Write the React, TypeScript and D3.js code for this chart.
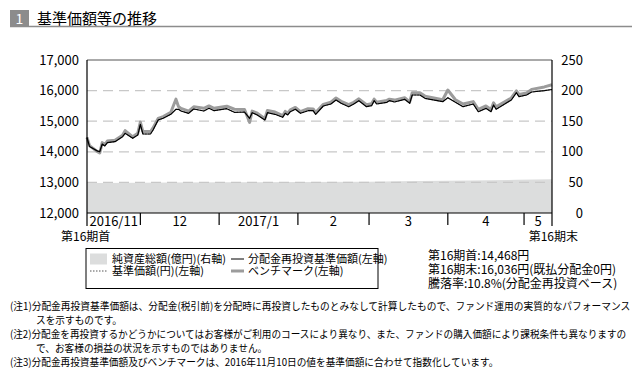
import React, { useRef, useEffect } from "react";
import * as d3 from "d3";

// 基準価額等の推移 (第16期)
const dates = [
    "2016-11-10", "2016-11-11", "2016-11-14", "2016-11-15", "2016-11-16", "2016-11-17",
    "2016-11-18", "2016-11-21", "2016-11-24", "2016-11-25", "2016-11-28", "2016-11-30",
    "2016-12-01", "2016-12-02", "2016-12-05", "2016-12-06", "2016-12-08", "2016-12-10",
    "2016-12-13", "2016-12-15", "2016-12-16", "2016-12-17", "2016-12-20", "2016-12-22",
    "2016-12-26", "2016-12-28", "2016-12-30", "2017-01-04", "2017-01-07", "2017-01-11",
    "2017-01-13", "2017-01-14", "2017-01-16", "2017-01-19", "2017-01-20", "2017-01-23",
    "2017-01-26", "2017-01-27", "2017-01-28", "2017-01-29", "2017-01-31", "2017-02-02",
    "2017-02-05", "2017-02-07", "2017-02-08", "2017-02-11", "2017-02-14", "2017-02-16",
    "2017-02-18", "2017-02-21", "2017-02-23", "2017-02-25", "2017-02-28", "2017-03-02",
    "2017-03-03", "2017-03-04", "2017-03-08", "2017-03-09", "2017-03-11", "2017-03-15",
    "2017-03-17", "2017-03-18", "2017-03-21", "2017-03-23", "2017-03-30", "2017-04-01",
    "2017-04-04", "2017-04-07", "2017-04-11", "2017-04-13", "2017-04-16", "2017-04-18",
    "2017-04-19", "2017-04-20", "2017-04-26", "2017-04-28", "2017-04-29", "2017-05-02",
    "2017-05-04", "2017-05-09", "2017-05-12",
];

// 分配金再投資基準価額 (= 基準価額, 分配金0円)
const navValues = [
    14468, 14170, 14030, 14000, 14255, 14190,
    14297, 14330, 14493, 14604, 14440, 14549,
    14899, 14582, 14582, 14712, 15039, 15095,
    15225, 15389, 15390, 15333, 15258, 15399,
    15333, 15422, 15343, 15408, 15290, 15300,
    15095, 15278, 15203, 15039, 15278, 15225,
    15127, 15258, 15203, 15310, 15389, 15258,
    15343, 15343, 15225, 15497, 15562, 15693,
    15585, 15474, 15562, 15670, 15474, 15507,
    15670, 15562, 15617, 15670, 15627, 15715,
    15585, 15856, 15856, 15748, 15637, 15768,
    15617, 15474, 15562, 15310, 15420, 15310,
    15530, 15389, 15693, 15931, 15801, 15856,
    15954, 16000, 16036,
];

// ベンチマーク
const benchValues = [
    14468, 14200, 14010, 13960, 14300, 14230,
    14350, 14380, 14540, 14690, 14490, 14610,
    14970, 14660, 14660, 14780, 15090, 15150,
    15290, 15720, 15480, 15420, 15330, 15470,
    15420, 15500, 15420, 15490, 15390, 15380,
    14960, 15330, 15260, 15080, 15350, 15300,
    15180, 15320, 15260, 15370, 15450, 15310,
    15410, 15400, 15280, 15550, 15620, 15760,
    15650, 15540, 15620, 15730, 15540, 15570,
    15720, 15620, 15680, 15720, 15690, 15770,
    15630, 15930, 15930, 15820, 15700, 16020,
    15700, 15560, 15640, 15390, 15500, 15380,
    15600, 15470, 15760, 15990, 15870, 15920,
    16040, 16120, 16190,
];

// 純資産総額 (億円)
const assetDates = [
    "2016-11-10", "2016-11-15", "2016-12-01", "2016-12-15", "2017-01-04", "2017-02-01",
    "2017-03-01", "2017-03-20", "2017-04-10", "2017-04-28", "2017-05-12",
];
const assetValues = [49.6, 49.0, 49.5, 50.0, 50.2, 50.5, 51.2, 52.2, 53.2, 54.2, 55.0];

const leftTicks = [12000, 13000, 14000, 15000, 16000, 17000];
const rightTicks = [0, 50, 100, 150, 200, 250];
const gridTicks = [13000, 14000, 15000, 16000];
const periodStart = "2016-11-10";
const periodEnd = "2017-05-12";
const monthStarts = ["2016-12-01", "2017-01-01", "2017-02-01", "2017-03-01", "2017-04-01", "2017-05-01"];
const monthLabels = ["2016/11", "12", "2017/1", "2", "3", "4", "5"];

const legendItems = [
    { label: "純資産総額(億円)(右軸)", kind: "area" },
    { label: "分配金再投資基準価額(左軸)", kind: "nav" },
    { label: "基準価額(円)(左軸)", kind: "dot" },
    { label: "ベンチマーク(左軸)", kind: "bench" },
];

const summaryLines = [
    "第16期首:14,468円",
    "第16期末:16,036円(既払分配金0円)",
    "騰落率:10.8%(分配金再投資ベース)",
];

const notes = [
    { text: "(注1)分配金再投資基準価額は、分配金(税引前)を分配時に再投資したものとみなして計算したもので、ファンド運用の実質的なパフォーマンス", indent: false, fit: 621 },
    { text: "スを示すものです。", indent: true, fit: 0 },
    { text: "(注2)分配金を再投資するかどうかについてはお客様がご利用のコースにより異なり、また、ファンドの購入価額により課税条件も異なりますの", indent: false, fit: 617 },
    { text: "で、お客様の損益の状況を示すものではありません。", indent: true, fit: 0 },
    { text: "(注3)分配金再投資基準価額及びベンチマークは、2016年11月10日の値を基準価額に合わせて指数化しています。", indent: false, fit: 0 },
];

const FONT = '"Noto Sans CJK JP", "Noto Sans", sans-serif';

export default function App() {
    const svgRef = useRef<SVGSVGElement | null>(null);

    useEffect(() => {
        if (!svgRef.current) return;
        const width = 635;
        const height = 370;
        const margin = { top: 60, right: 83, bottom: 157, left: 87 };
        const x0 = margin.left;
        const x1 = width - margin.right;
        const y0 = height - margin.bottom;
        const y1 = margin.top;

        const svg = d3.select(svgRef.current);
        svg.selectAll("*").remove();

        const parse = d3.timeParse("%Y-%m-%d");

        const x = d3
            .scaleTime()
            .domain([parse(periodStart) as Date, parse(periodEnd) as Date])
            .range([x0, x1]);
        const y = d3.scaleLinear().domain([12000, 17000]).range([y0, y1]);
        const yR = d3.scaleLinear().domain([0, 250]).range([y0, y1]);

        // header
        svg.append("rect").attr("x", 10).attr("y", 10).attr("width", 19).attr("height", 17).attr("fill", "#8c8c8c");
        svg.append("text").attr("x", 19.5).attr("y", 23.5).attr("text-anchor", "middle")
            .attr("fill", "#fff").attr("font-size", 14).attr("font-family", FONT).text("1");
        svg.append("text").attr("x", 37).attr("y", 23.5).attr("fill", "#000")
            .attr("font-size", 15).attr("font-family", FONT).text("基準価額等の推移");
        svg.append("line").attr("x1", 10).attr("x2", 632).attr("y1", 26.5).attr("y2", 26.5)
            .attr("stroke", "#8c8c8c").attr("stroke-width", 1.6);

        // net assets area (right axis)
        const assets = assetDates.map((d, i) => ({ date: parse(d) as Date, value: assetValues[i] }));
        const area = d3.area<{ date: Date; value: number }>()
            .x((d) => x(d.date))
            .y0(y0)
            .y1((d) => yR(d.value));
        svg.append("path").datum(assets).attr("fill", "#dcdddd").attr("d", area);

        // grid
        svg.append("g").selectAll("line").data(gridTicks).join("line")
            .attr("x1", x0).attr("x2", x1)
            .attr("y1", (d) => y(d)).attr("y2", (d) => y(d))
            .attr("stroke", "#c8c8c8").attr("stroke-width", 1.2).attr("stroke-dasharray", "10,6");

        const series = dates.map((d, i) => ({ date: parse(d) as Date, nav: navValues[i], bench: benchValues[i] }));

        const benchLine = d3.line<{ date: Date; bench: number }>().x((d) => x(d.date)).y((d) => y(d.bench));
        const navLine = d3.line<{ date: Date; nav: number }>().x((d) => x(d.date)).y((d) => y(d.nav));

        svg.append("path").datum(series).attr("fill", "none").attr("stroke", "#9c9c9c")
            .attr("stroke-width", 3).attr("stroke-linejoin", "round").attr("d", benchLine as any);
        svg.append("path").datum(series).attr("fill", "none").attr("stroke", "#555")
            .attr("stroke-width", 1).attr("stroke-dasharray", "1.5,1.5").attr("d", navLine as any);
        svg.append("path").datum(series).attr("fill", "none").attr("stroke", "#000")
            .attr("stroke-width", 1.2).attr("stroke-linejoin", "round").attr("d", navLine as any);

        // frame
        svg.append("line").attr("x1", x0).attr("x2", x1).attr("y1", y1).attr("y2", y1)
            .attr("stroke", "#555").attr("stroke-width", 1);
        svg.append("line").attr("x1", x0).attr("x2", x1).attr("y1", y0).attr("y2", y0)
            .attr("stroke", "#000").attr("stroke-width", 1.2);
        svg.append("line").attr("x1", x0).attr("x2", x0).attr("y1", y1).attr("y2", y0 + 13)
            .attr("stroke", "#000").attr("stroke-width", 1.2);
        svg.append("line").attr("x1", x1).attr("x2", x1).attr("y1", y1).attr("y2", y0 + 13)
            .attr("stroke", "#000").attr("stroke-width", 1.2);

        // month ticks and labels
        const bounds = [periodStart, ...monthStarts, periodEnd].map((d) => parse(d) as Date);
        svg.append("g").selectAll("line").data(monthStarts.map((d) => parse(d) as Date)).join("line")
            .attr("x1", (d) => x(d)).attr("x2", (d) => x(d))
            .attr("y1", y0).attr("y2", y0 + 12)
            .attr("stroke", "#000").attr("stroke-width", 1.2);
        svg.append("g").selectAll("text").data(monthLabels).join("text")
            .attr("x", (_, i) => (x(bounds[i]) + x(bounds[i + 1])) / 2)
            .attr("y", y0 + 12.5)
            .attr("text-anchor", "middle")
            .attr("font-size", 13).attr("font-family", FONT)
            .text((d) => d);

        svg.append("text").attr("x", x0 - 26).attr("y", y0 + 28).attr("font-size", 12)
            .attr("font-family", FONT).text("第16期首");
        svg.append("text").attr("x", x1 + 26).attr("y", y0 + 28).attr("font-size", 12)
            .attr("text-anchor", "end").attr("font-family", FONT).text("第16期末");

        // y labels
        svg.append("g").selectAll("text").data(leftTicks).join("text")
            .attr("x", x0 - 8).attr("y", (d) => y(d) + 4.5)
            .attr("text-anchor", "end").attr("font-size", 13).attr("font-family", FONT)
            .text((d) => d3.format(",")(d));
        svg.append("g").selectAll("text").data(rightTicks).join("text")
            .attr("x", x1 + 31).attr("y", (d) => yR(d) + 4.5)
            .attr("text-anchor", "end").attr("font-size", 13).attr("font-family", FONT)
            .text((d) => d);

        // legend
        const lg = svg.append("g");
        lg.append("rect").attr("x", 86).attr("y", 248.5).attr("width", 292).attr("height", 40)
            .attr("fill", "none").attr("stroke", "#000").attr("stroke-width", 1);
        legendItems.forEach((item, i) => {
            const col = i % 2;
            const row = Math.floor(i / 2);
            const lx = col === 0 ? 90 : 231;
            const ly = 259 + row * 12;
            if (item.kind === "area") {
                lg.append("rect").attr("x", lx).attr("y", ly - 5.5).attr("width", 17).attr("height", 11).attr("fill", "#dcdddd");
            } else if (item.kind === "nav") {
                lg.append("line").attr("x1", lx).attr("x2", lx + 13).attr("y1", ly).attr("y2", ly).attr("stroke", "#000").attr("stroke-width", 1);
            } else if (item.kind === "dot") {
                lg.append("line").attr("x1", lx).attr("x2", lx + 17).attr("y1", ly).attr("y2", ly)
                    .attr("stroke", "#555").attr("stroke-width", 1).attr("stroke-dasharray", "1.5,1.5");
            } else {
                lg.append("line").attr("x1", lx).attr("x2", lx + 13).attr("y1", ly).attr("y2", ly).attr("stroke", "#9c9c9c").attr("stroke-width", 3);
            }
            lg.append("text").attr("x", col === 0 ? 112 : 248).attr("y", ly + 4)
                .attr("font-size", 11).attr("font-family", FONT).text(item.label);
        });

        // summary
        svg.append("g").selectAll("text").data(summaryLines).join("text")
            .attr("x", 428).attr("y", (_, i) => 259.5 + i * 14)
            .attr("font-size", 12).attr("font-family", FONT)
            .text((d) => d);

        // notes: condensed type, the long lines fill the page width
        const ng = svg.append("g");
        const noteTexts = notes.map((n, i) => {
            const nx = n.indent ? 36 : 10;
            const t = ng.append("text")
                .attr("x", 0).attr("y", 310.5 + i * 14)
                .attr("font-size", 10.5).attr("font-family", FONT).text(n.text);
            return { t, nx, n };
        });
        const scales = noteTexts
            .filter((d) => d.n.fit)
            .map((d) => d.n.fit / (d.t.node() as SVGTextElement).getComputedTextLength());
        const avg = d3.mean(scales) || 0.86;
        noteTexts.forEach(({ t, nx, n }) => {
            const len = (t.node() as SVGTextElement).getComputedTextLength();
            const s = n.fit ? n.fit / len : avg;
            t.attr("transform", `translate(${nx},0) scale(${s},1)`);
        });
    }, []);

    return (
        <svg
            ref={svgRef}
            width={635}
            height={370}
            style={{ position: "absolute", left: 0, top: 0, background: "#fff" }}
        ></svg>
    );
}
